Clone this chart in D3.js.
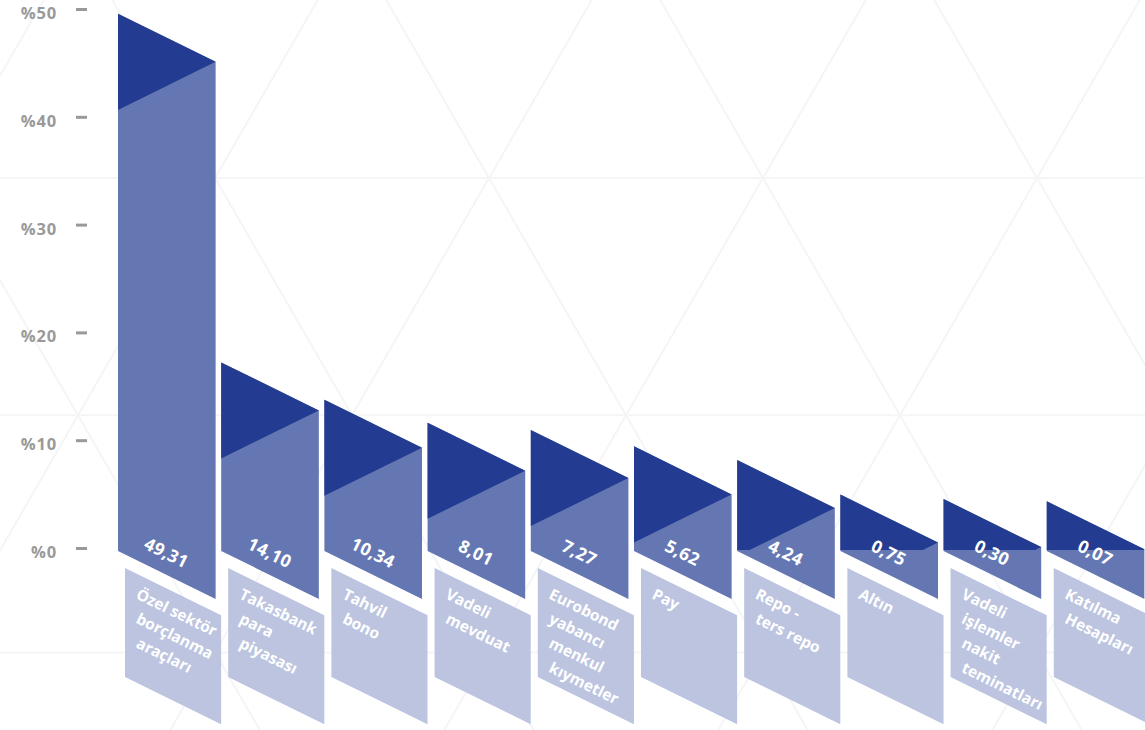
<!DOCTYPE html>
<html><head><meta charset="utf-8">
<script src="https://cdn.jsdelivr.net/npm/d3@7"></script>
<style>html,body{margin:0;padding:0;background:#fff;} svg{display:block}</style>
</head><body>
<script>
// ---- data ----
const categories = ["Özel sektör borçlanma araçları","Takasbank para piyasası","Tahvil bono","Vadeli mevduat","Eurobond yabancı menkul kıymetler","Pay","Repo - ters repo","Altın","Vadeli işlemler nakit teminatları","Katılma Hesapları"];
const labelLines = [["Özel sektör","borçlanma","araçları"],["Takasbank","para","piyasası"],["Tahvil","bono"],["Vadeli","mevduat"],["Eurobond","yabancı","menkul","kıymetler"],["Pay"],["Repo -","ters repo"],["Altın"],["Vadeli","işlemler","nakit","teminatları"],["Katılma","Hesapları"]];
const values = [49.31,14.10,10.34,8.01,7.27,5.62,4.24,0.75,0.30,0.07];
const valueLabels = ["49,31","14,10","10,34","8,01","7,27","5,62","4,24","0,75","0,30","0,07"];
const tickValues = [0,10,20,30,40,50];
const tickLabels = ["%0","%10","%20","%30","%40","%50"];

// ---- layout ----
const W = 1145, H = 730;
const DARK = "#233c91", MED = "#6577b3", LIGHT = "#bcc4e0", GREY = "#999999";
const FONT = "'Open Sans', sans-serif";

const svg = d3.select("body").append("svg").attr("width", W).attr("height", H);

// faint triangular background pattern
const bg = svg.append("g").attr("stroke", "#f5f5f7").attr("stroke-width", 2).attr("fill", "none");
const L = 274, hT = L * Math.sqrt(3) / 2, ox = 763, oy = 178;
for (let m = -1; m <= 2; m++) {
  bg.append("line").attr("x1", 0).attr("x2", W).attr("y1", oy + m * hT).attr("y2", oy + m * hT);
}
for (let k = -6; k <= 8; k++) {
  const px = ox + k * L, t = 900;
  bg.append("line").attr("x1", px - 0.5 * t).attr("y1", oy - 0.866 * t).attr("x2", px + 0.5 * t).attr("y2", oy + 0.866 * t);
  bg.append("line").attr("x1", px + 0.5 * t).attr("y1", oy - 0.866 * t).attr("x2", px - 0.5 * t).attr("y2", oy + 0.866 * t);
}

const x = d3.scaleBand().domain(categories).range([118, 1144.4]).paddingInner(0.054).paddingOuter(0);
const yAxis = d3.scaleLinear().domain([0, 50]).range([548, 9]);
const yBar = d3.scaleLinear().domain([0, 50]).range([502, 7]);
const zeroY = 551, clipY = 550, slope = 0.492;
const angle = Math.atan(slope) * 180 / Math.PI;
const w = x.bandwidth();
const drop = slope * w;

// axis
const axis = d3.axisLeft(yAxis).tickValues(tickValues).tickFormat((d, i) => tickLabels[i]).tickSize(11).tickPadding(19);
const ag = svg.append("g").attr("transform", "translate(87,0)").call(axis);
ag.select(".domain").remove();
ag.selectAll(".tick line").attr("stroke", GREY).attr("stroke-width", 3);
ag.selectAll(".tick text").attr("fill", GREY).attr("font-family", FONT).attr("font-weight", 700)
  .attr("font-size", 16.5).attr("letter-spacing", 0.8).attr("dy", "0.58em");

// clip for dark triangles
svg.append("defs").append("clipPath").attr("id", "aboveZero")
  .append("rect").attr("x", 0).attr("y", -50).attr("width", W).attr("height", clipY + 50);

const data = categories.map((c, i) => ({ c, v: values[i], lab: valueLabels[i], lines: labelLines[i] }));

// bar bodies
svg.append("g").selectAll("path").data(data).join("path")
  .attr("fill", MED)
  .attr("d", d => {
    const x0 = x(d.c), x1 = x0 + w, y0 = yBar(d.v);
    return `M${x0},${y0}L${x1},${y0 + drop}L${x1},${zeroY + drop}L${x0},${zeroY}Z`;
  });

// dark triangles
svg.append("g").attr("clip-path", "url(#aboveZero)").selectAll("path").data(data).join("path")
  .attr("fill", DARK)
  .attr("d", d => {
    const x0 = x(d.c), x1 = x0 + w, y0 = yBar(d.v);
    return `M${x0},${y0}L${x1},${y0 + drop}L${x0},${y0 + 2 * drop}Z`;
  });

// value labels
svg.append("g").selectAll("text").data(data).join("text")
  .attr("x", d => x(d.c) + w / 2).attr("y", 552)
  .attr("transform", d => `rotate(${angle},${x(d.c) + w / 2},552)`)
  .attr("text-anchor", "middle").attr("dominant-baseline", "central")
  .attr("fill", "#fff").attr("font-family", FONT).attr("font-weight", 700).attr("font-size", 17.5)
  .attr("letter-spacing", 0.3)
  .text(d => d.lab);

// label boxes
const boxTop = 568, boxH = 109, boxOff = 7, bw = w - 1.5;
svg.append("g").selectAll("path").data(data).join("path")
  .attr("fill", LIGHT)
  .attr("d", d => {
    const bx0 = x(d.c) + boxOff, bx1 = bx0 + bw;
    return `M${bx0},${boxTop}L${bx1},${boxTop + slope * bw}L${bx1},${boxTop + boxH + slope * bw}L${bx0},${boxTop + boxH}Z`;
  });

// category labels
const cosA = Math.cos(Math.atan(slope));
const lg = svg.append("g");
data.forEach(d => {
  const bx0 = x(d.c) + boxOff;
  d.lines.forEach((ln, i) => {
    const sy = 598 + i * 24.5;
    const t = lg.append("text").attr("fill", "#fff").attr("font-family", FONT).attr("font-weight", 700)
      .attr("font-size", 15.5).text(ln);
    const ext = t.node().getComputedTextLength() * cosA;
    const sx = bx0 + Math.min(10, bw - 3 - ext);
    t.attr("x", sx).attr("y", sy).attr("transform", `rotate(${angle},${sx},${sy})`);
  });
});
</script>
</body></html>
